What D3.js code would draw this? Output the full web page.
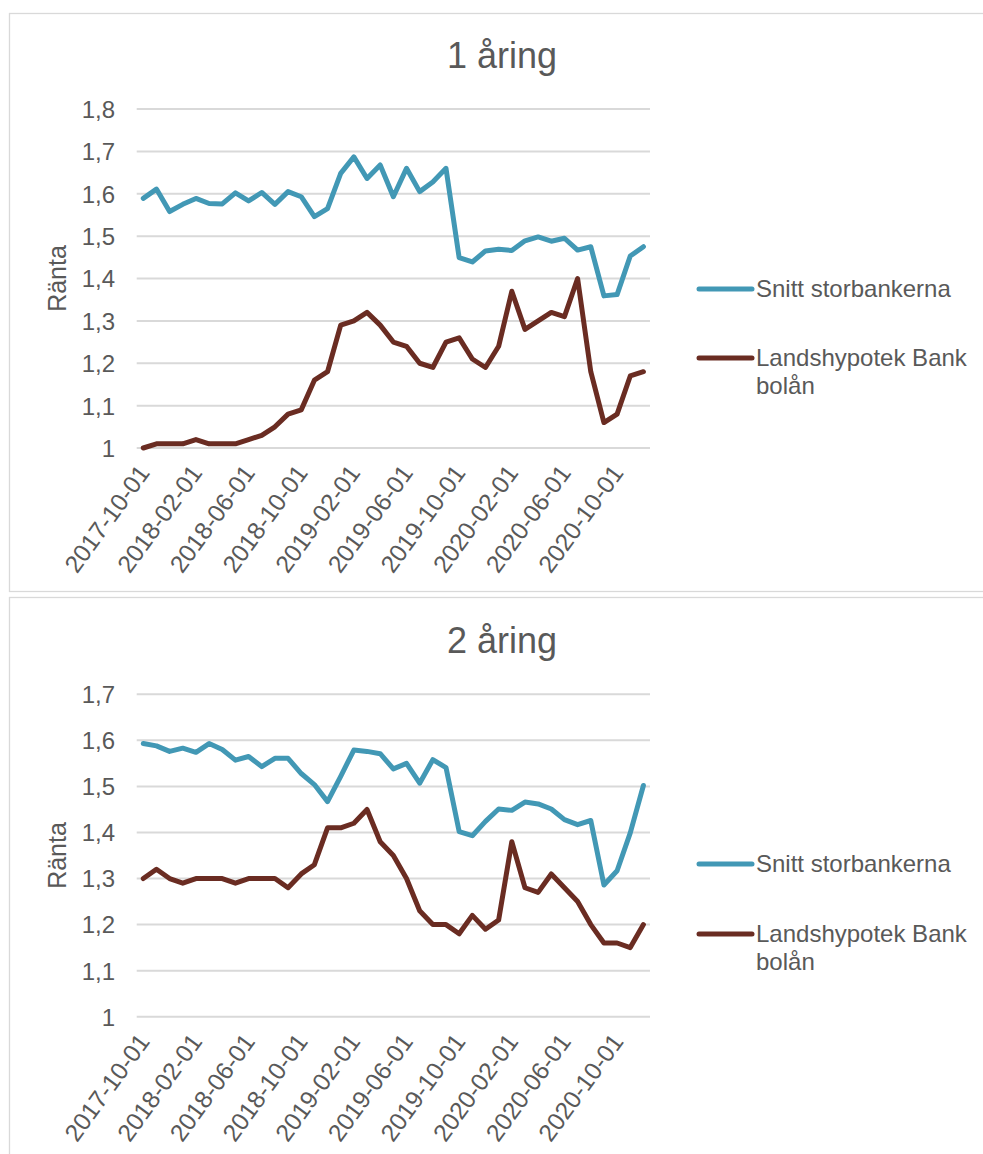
<!DOCTYPE html>
<html>
<head>
<meta charset="utf-8">
<script src="https://cdn.jsdelivr.net/npm/d3@7"></script>
<style>
  html, body { margin: 0; padding: 0; background: #fff; }
  svg { display: block; font-family: "Liberation Sans", Arial, Helvetica, sans-serif; }
</style>
</head>
<body>
<svg id="chart" width="983" height="1154"></svg>
<script>
// ---------- DATA ----------
const months = [
  "2017-10-01","2017-11-01","2017-12-01","2018-01-01","2018-02-01","2018-03-01","2018-04-01","2018-05-01",
  "2018-06-01","2018-07-01","2018-08-01","2018-09-01","2018-10-01","2018-11-01","2018-12-01","2019-01-01",
  "2019-02-01","2019-03-01","2019-04-01","2019-05-01","2019-06-01","2019-07-01","2019-08-01","2019-09-01",
  "2019-10-01","2019-11-01","2019-12-01","2020-01-01","2020-02-01","2020-03-01","2020-04-01","2020-05-01",
  "2020-06-01","2020-07-01","2020-08-01","2020-09-01","2020-10-01","2020-11-01","2020-12-01"
];
const tickLabels = ["2017-10-01","2018-02-01","2018-06-01","2018-10-01","2019-02-01","2019-06-01",
  "2019-10-01","2020-02-01","2020-06-01","2020-10-01"];
const seriesNames = ["Snitt storbankerna", "Landshypotek Bank bolån"];

// 1 åring
const storbank1 = [1.589,1.611,1.558,1.575,1.589,1.577,1.576,1.602,1.583,1.603,1.575,1.605,1.593,1.546,1.565,
  1.648,1.687,1.636,1.668,1.593,1.660,1.605,1.628,1.660,1.449,1.439,1.465,1.469,1.466,1.489,1.498,1.488,
  1.495,1.467,1.475,1.359,1.362,1.453,1.475];
const landshypotek1 = [1.00,1.01,1.01,1.01,1.02,1.01,1.01,1.01,1.02,1.03,1.05,1.08,1.09,1.16,1.18,1.29,1.30,
  1.32,1.29,1.25,1.24,1.20,1.19,1.25,1.26,1.21,1.19,1.24,1.37,1.28,1.30,1.32,1.31,1.40,1.18,1.06,1.08,1.17,1.18];
const yTicks1 = [1.0,1.1,1.2,1.3,1.4,1.5,1.6,1.7,1.8];

// 2 åring
const storbank2 = [1.593,1.588,1.576,1.583,1.574,1.593,1.580,1.557,1.565,1.543,1.561,1.561,1.528,1.504,1.467,
  1.522,1.579,1.576,1.571,1.538,1.550,1.507,1.558,1.541,1.402,1.393,1.424,1.451,1.448,1.466,1.462,1.451,
  1.428,1.417,1.426,1.286,1.317,1.399,1.502];
const landshypotek2 = [1.30,1.32,1.30,1.29,1.30,1.30,1.30,1.29,1.30,1.30,1.30,1.28,1.31,1.33,1.41,1.41,1.42,
  1.45,1.38,1.35,1.30,1.23,1.20,1.20,1.18,1.22,1.19,1.21,1.38,1.28,1.27,1.31,1.28,1.25,1.20,1.16,1.16,1.15,1.20];
const yTicks2 = [1.0,1.1,1.2,1.3,1.4,1.5,1.6,1.7];

// ---------- STYLE ----------
const colors = ["#4298b5", "#6a2c22"];
const textColor = "#595959";
const gridColor = "#d9d9d9";

const svg = d3.select("#chart");
const fmt = d => d === 1 ? "1" : d.toFixed(1).replace(".", ",");

function drawPanel(opt) {
  const g = svg.append("g");
  // frame
  g.append("rect")
    .attr("x", 9.5).attr("y", opt.frameTop + 0.5)
    .attr("width", 1000).attr("height", opt.frameHeight)
    .attr("fill", "#fff").attr("stroke", gridColor).attr("stroke-width", 1.3);

  const x = d3.scalePoint().domain(months).range([136.7, 650]).padding(0.5);
  const y = d3.scaleLinear().domain([1, opt.yMax]).range([opt.yBottom, opt.yTop]);

  // gridlines
  g.append("g").selectAll("line").data(opt.yTicks).join("line")
    .attr("x1", 136.7).attr("x2", 650)
    .attr("y1", d => y(d)).attr("y2", d => y(d))
    .attr("stroke", gridColor).attr("stroke-width", 2);

  // y axis
  const yAxis = d3.axisLeft(y).tickValues(opt.yTicks).tickFormat(fmt).tickSize(0).tickPadding(0);
  const ya = g.append("g").attr("transform", "translate(115,0)").call(yAxis);
  ya.select(".domain").remove();
  ya.selectAll("text").attr("fill", textColor).attr("font-size", 24)
    .attr("font-family", "Liberation Sans, Arial, sans-serif").attr("dy", "0.35em");

  // x axis labels
  const xAxis = d3.axisBottom(x).tickValues(tickLabels).tickSize(0).tickPadding(0);
  const xa = g.append("g").attr("transform", `translate(0,${opt.yBottom + 20})`).call(xAxis);
  xa.select(".domain").remove();
  xa.selectAll("text")
    .attr("fill", textColor).attr("font-size", 24.5)
    .attr("font-family", "Liberation Sans, Arial, sans-serif")
    .attr("text-anchor", "end")
    .attr("dy", "0.35em").attr("y", 0).attr("x", 0)
    .attr("transform", "translate(0,0) rotate(-54)");

  // y label
  g.append("text")
    .attr("transform", `translate(${66},${(opt.yTop + opt.yBottom) / 2}) rotate(-90)`)
    .attr("text-anchor", "middle")
    .attr("fill", textColor).attr("font-size", 25)
    .text("Ränta");

  // title
  g.append("text")
    .attr("x", 502).attr("y", opt.titleY)
    .attr("text-anchor", "middle")
    .attr("fill", textColor).attr("font-size", 36)
    .text(opt.title);

  // lines
  const line = d3.line().x((d, i) => x(months[i])).y(d => y(d));
  [opt.s1, opt.s2].forEach((s, k) => {
    g.append("path").datum(s)
      .attr("d", line)
      .attr("fill", "none")
      .attr("stroke", colors[k])
      .attr("stroke-width", 5)
      .attr("stroke-linejoin", "round")
      .attr("stroke-linecap", "round");
  });

  // legend
  const lg = g.append("g");
  opt.legendY.forEach((ly, k) => {
    lg.append("line")
      .attr("x1", 699).attr("x2", 752)
      .attr("y1", ly).attr("y2", ly)
      .attr("stroke", colors[k]).attr("stroke-width", 5).attr("stroke-linecap", "round");
  });
  lg.append("text")
    .attr("x", 756).attr("y", opt.legendY[0]).attr("dy", "0.35em")
    .attr("fill", textColor).attr("font-size", 24)
    .text(seriesNames[0]);
  const t2 = lg.append("text")
    .attr("x", 756).attr("y", opt.legendY[1]).attr("dy", "0.35em")
    .attr("fill", textColor).attr("font-size", 24);
  t2.append("tspan").attr("x", 756).text("Landshypotek Bank");
  t2.append("tspan").attr("x", 756).attr("dy", 27.5).text("bolån");
}

drawPanel({
  frameTop: 13, frameHeight: 578,
  title: "1 åring", titleY: 68,
  yMax: 1.8, yTop: 109, yBottom: 448, yTicks: yTicks1,
  s1: storbank1, s2: landshypotek1,
  legendY: [289, 358]
});

drawPanel({
  frameTop: 597, frameHeight: 600,
  title: "2 åring", titleY: 653,
  yMax: 1.7, yTop: 694.3, yBottom: 1016.7, yTicks: yTicks2,
  s1: storbank2, s2: landshypotek2,
  legendY: [864, 934]
});
</script>
</body>
</html>
